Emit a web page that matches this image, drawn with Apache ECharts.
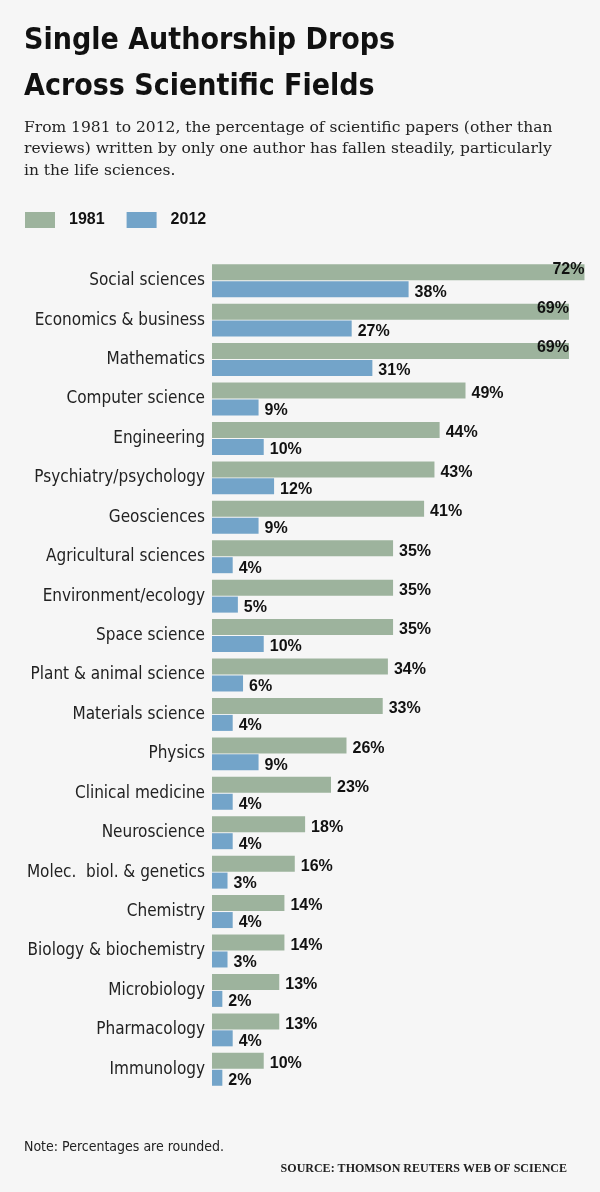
<!DOCTYPE html>
<html>
<head>
<meta charset="utf-8">
<script src="https://cdn.jsdelivr.net/npm/echarts@6/dist/echarts.min.js"></script>
<style>
  html, body { margin: 0; padding: 0; background: #f6f6f6; }
  #chart { width: 600px; height: 1192px; }
</style>
</head>
<body>
<div id="chart"></div>
<script>
// fields, top to bottom
const fields = [
  'Social sciences', 'Economics & business', 'Mathematics', 'Computer science',
  'Engineering', 'Psychiatry/psychology', 'Geosciences', 'Agricultural sciences',
  'Environment/ecology', 'Space science', 'Plant & animal science', 'Materials science',
  'Physics', 'Clinical medicine', 'Neuroscience', 'Molec.  biol. & genetics',
  'Chemistry', 'Biology & biochemistry', 'Microbiology', 'Pharmacology', 'Immunology'
]
// share of single-author papers, %
const pct1981 = [72, 69, 69, 49, 44, 43, 41, 35, 35, 35, 34, 33, 26, 23, 18, 16, 14, 14, 13, 13, 10]
const pct2012 = [38, 27, 31, 9, 10, 12, 9, 4, 5, 10, 6, 4, 9, 4, 4, 3, 4, 3, 2, 4, 2]

const green = '#9db39d'
const blue = '#73a4c9'
const sans = '"Liberation Sans Narrow", "DejaVu Sans Condensed", "Liberation Sans", sans-serif'

let myChart = echarts.init(document.getElementById('chart'))

const valueLabel = {
  show: true,
  position: 'right',
  distance: 6,
  offset: [0, 3],
  formatter: '{c}%',
  color: '#111',
  fontFamily: '"Liberation Sans", Arial, sans-serif',
  fontWeight: 'bold',
  fontSize: 16
}

myChart.setOption({
  backgroundColor: '#f6f6f6',
  animation: false,
  title: [
    {
      text: 'Single Authorship Drops\nAcross Scientific Fields',
      left: 19, top: 13,
      textStyle: { fontFamily: sans, fontWeight: 'bold', fontSize: 30, lineHeight: 46, color: '#111' }
    },
    {
      text: 'From 1981 to 2012, the percentage of scientific papers (other than\nreviews) written by only one author has fallen steadily, particularly\nin the life sciences.',
      left: 19, top: 112,
      textStyle: { fontFamily: '"DejaVu Serif", "Liberation Serif", serif', fontWeight: 'normal', fontSize: 15.5, lineHeight: 21.5, color: '#222' }
    },
    {
      text: 'Note: Percentages are rounded.',
      left: 19, top: 1135,
      textStyle: { fontFamily: sans, fontWeight: 'normal', fontSize: 14, color: '#222' }
    },
    {
      text: 'SOURCE: THOMSON REUTERS WEB OF SCIENCE',
      right: 28, top: 1158,
      textStyle: { fontFamily: '"Liberation Serif", serif', fontWeight: 'bold', fontSize: 12, color: '#222' }
    }
  ],
  legend: {
    left: 20, top: 207,
    itemWidth: 30, itemHeight: 16, itemGap: 22,
    icon: 'rect',
    textStyle: { fontFamily: '"Liberation Sans", Arial, sans-serif', fontWeight: 'bold', fontSize: 16, color: '#111', padding: [0, 0, 0, 9] },
    data: ['1981', '2012']
  },
  grid: { left: 212, top: 261, width: 388, height: 828 },
  xAxis: {
    type: 'value', min: 0, max: 75,
    show: false
  },
  yAxis: {
    type: 'category',
    data: fields,
    inverse: true,
    axisLine: { show: false },
    axisTick: { show: false },
    axisLabel: { color: '#222', fontFamily: sans, fontSize: 17, margin: 7 }
  },
  series: [
    {
      name: '1981', type: 'bar', data: pct1981,
      itemStyle: { color: green },
      barWidth: 16, barGap: '6%',
      label: valueLabel
    },
    {
      name: '2012', type: 'bar', data: pct2012,
      itemStyle: { color: blue },
      barWidth: 16,
      label: valueLabel
    }
  ]
})
// the three longest 1981 bars carry their label inside the end
myChart.setOption({
  series: [{
    data: pct1981.map(v => v > 60
      ? { value: v, label: { position: 'insideRight', offset: [2, -3], distance: 2 } }
      : v)
  }]
})
</script>
</body>
</html>
